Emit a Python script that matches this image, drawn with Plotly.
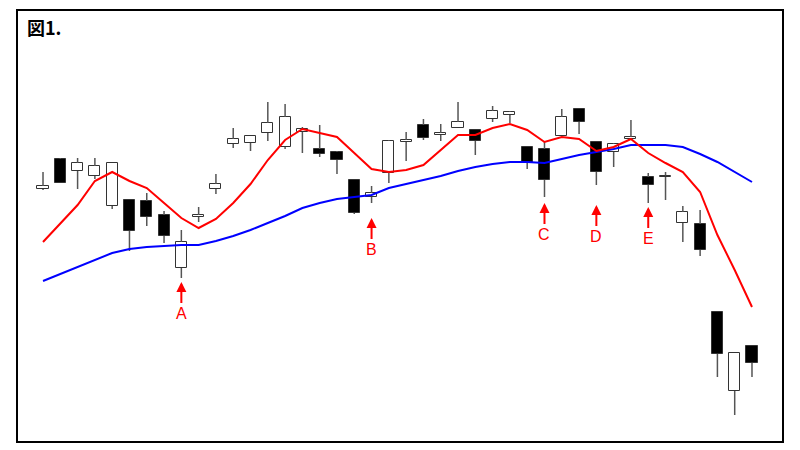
import plotly.graph_objects as go

# ---- data (price units, arbitrary scale) ----
days = list(range(1, 43))
opens  = [271, 301, 289, 284, 254, 260, 259, 245, 192, 243, 271, 316, 317, 327, 313, 328, 311, 308, 280, 263, 287,
          318, 335, 325, 332, 330, 341, 345, 313, 311, 324, 351, 318, 308, 321, 283, 283, 237, 236, 148, 69, 114]
highs  = [288, 302, 302, 302, 297, 260, 267, 249, 230, 253, 286, 332, 324, 358, 356, 333, 335, 309, 280, 274, 320,
          328, 341, 336, 358, 330, 354, 349, 313, 318, 351, 351, 318, 317, 340, 287, 288, 254, 250, 148, 107, 114]
lows   = [270, 277, 271, 281, 251, 209, 234, 217, 182, 238, 266, 312, 309, 319, 311, 307, 303, 286, 246, 257, 277,
          299, 320, 319, 332, 305, 338, 337, 291, 263, 324, 326, 275, 293, 320, 257, 260, 218, 204, 83, 45, 83]
closes = [274, 277, 297, 294, 297, 229, 243, 224, 218, 245, 276, 321, 324, 337, 343, 331, 306, 300, 247, 267, 319,
          320, 322, 327, 338, 319, 349, 348, 297, 280, 343, 338, 288, 316, 323, 275, 284.5, 248, 210, 106, 107, 97]
ma_short = [218, 236, 255, 279, 288, 279, 272, 257, 242, 232, 241, 257, 276, 300, 320, 331, 327, 323, 307, 291, 288,
            290, 295, 310, 325, 325, 332, 336, 330, 318, 323, 321, 309, 313, 321, 307, 297, 288, 268, 225, 190, 153]
ma_long = [179, 186, 193, 200, 207, 211, 213, 214, 215, 215, 219, 224, 230, 237, 244, 252, 257, 261, 263, 265, 272,
           276, 280, 284, 289, 293, 296, 298, 298, 297, 301, 305, 308, 311, 315, 315, 315, 313, 306, 298, 288, 278]
signal_labels = ["A", "B", "C", "D", "E"]
signal_days = [9, 20, 30, 33, 36]
signal_prices = [178, 242, 257, 255, 253]
title_text = "図1."

fig = go.Figure()

# wicks (drawn as segments outside the body)
wx, wy = [], []
for d, o, h, l, c in zip(days, opens, highs, lows, closes):
    top, bot = max(o, c), min(o, c)
    if h > top:
        wx += [d, d, None]; wy += [top, h, None]
    if l < bot:
        wx += [d, d, None]; wy += [bot, l, None]
fig.add_trace(go.Scatter(x=wx, y=wy, mode="lines", line=dict(color="#555555", width=1.5),
                         hoverinfo="skip", showlegend=False))

# bodies
bases, heights, colors = [], [], []
for o, c in zip(opens, closes):
    bot = min(o, c)
    hgt = max(abs(c - o), 1.5)
    bases.append(bot)
    heights.append(hgt)
    colors.append("white" if c >= o else "black")
fig.add_trace(go.Bar(x=days, y=heights, base=bases, width=0.64,
                     marker=dict(color=colors, line=dict(color="#333333", width=1)),
                     hoverinfo="skip", showlegend=False))

# moving averages
fig.add_trace(go.Scatter(x=days, y=ma_long, mode="lines", line=dict(color="#0000ff", width=2),
                         hoverinfo="skip", showlegend=False))
fig.add_trace(go.Scatter(x=days, y=ma_short, mode="lines", line=dict(color="#ff0000", width=2),
                         hoverinfo="skip", showlegend=False))

# signal arrows
for lab, d, p in zip(signal_labels, signal_days, signal_prices):
    fig.add_annotation(x=d, y=p, xref="x", yref="y", text=lab, showarrow=True,
                       ax=0, ay=31, arrowhead=2, arrowsize=1, arrowwidth=2, arrowcolor="#ff0000",
                       font=dict(family="Liberation Sans, Arial, sans-serif", size=16, color="#ff0000"))

fig.add_annotation(x=0.011, y=0.9595, xref="paper", yref="paper", text="<b>" + title_text + "</b>",
                   showarrow=False, xanchor="left", yanchor="middle",
                   font=dict(family="Noto Sans CJK JP", size=18, color="black"))

fig.add_shape(type="rect", xref="paper", yref="paper", x0=0, y0=0, x1=1, y1=1,
              line=dict(color="black", width=2))

fig.update_layout(
    width=800, height=450,
    margin=dict(l=9, r=25, t=2, b=16),
    paper_bgcolor="white", plot_bgcolor="white",
    bargap=0,
    xaxis=dict(visible=False, range=[-0.504, 43.793], fixedrange=True),
    yaxis=dict(visible=False, range=[18, 450], fixedrange=True),
    showlegend=False,
)

fig.write_html("out.html")
